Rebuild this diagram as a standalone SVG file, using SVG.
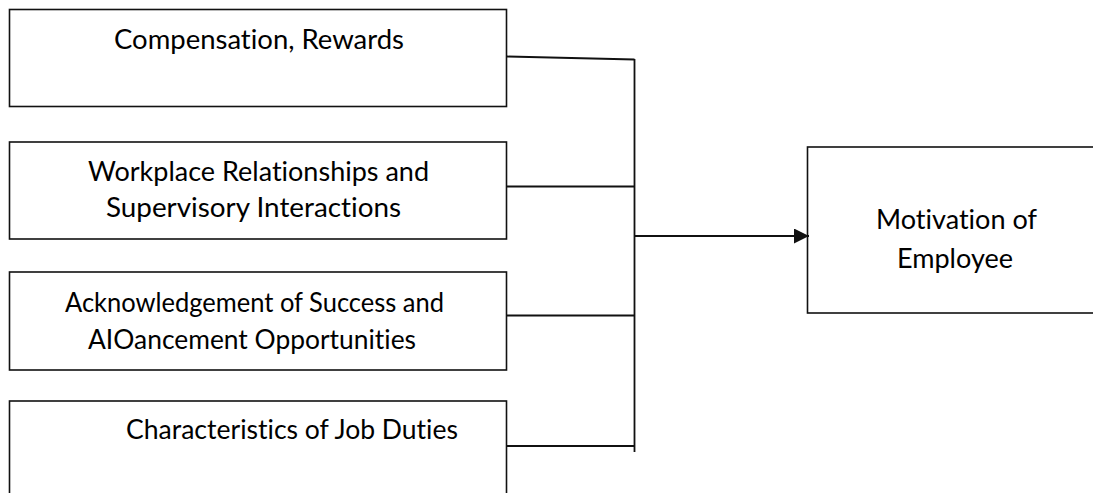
<svg xmlns="http://www.w3.org/2000/svg" width="1093" height="493" viewBox="0 0 1093 493">
  <style>
    .box { fill: #ffffff; stroke: #111111; stroke-width: 1.6; }
    .lbl { font-family: Lato, "Open Sans", "Liberation Sans", sans-serif; font-size: 26px; fill: #000000; font-variant-ligatures: none; font-feature-settings: "liga" 0, "dlig" 0; }
    .wire { stroke: #111111; stroke-width: 1.8; fill: none; }
  </style>
  <defs>
    <marker id="arrowhead" markerUnits="userSpaceOnUse" markerWidth="16" markerHeight="16" refX="15" refY="7.5" orient="auto">
      <path d="M0,0 L15,7.5 L0,15 Z" fill="#111111"/>
    </marker>
  </defs>

  <rect x="0" y="0" width="1093" height="493" fill="#ffffff"/>

  <!-- factor boxes -->
  <g id="node-compensation">
    <rect class="box" x="9.5" y="9.5" width="497" height="97"/>
    <text class="lbl" x="114" y="49" textLength="290" lengthAdjust="spacingAndGlyphs">Compensation, Rewards</text>
  </g>

  <g id="node-relationships">
    <rect class="box" x="9.5" y="142" width="497" height="97"/>
    <text class="lbl" x="88" y="181" textLength="341" lengthAdjust="spacingAndGlyphs">Workplace Relationships and</text>
    <text class="lbl" x="106" y="217" textLength="295" lengthAdjust="spacingAndGlyphs">Supervisory Interactions</text>
  </g>

  <g id="node-acknowledgement">
    <rect class="box" x="9.5" y="272" width="497" height="98"/>
    <text class="lbl" x="65" y="312" textLength="379" lengthAdjust="spacingAndGlyphs">Acknowledgement of Success and</text>
    <text class="lbl" x="88" y="349" textLength="328" lengthAdjust="spacingAndGlyphs">AIOancement Opportunities</text>
  </g>

  <g id="node-job-duties">
    <rect class="box" x="9.5" y="401" width="497" height="120"/>
    <text class="lbl" x="126" y="439" textLength="332" lengthAdjust="spacingAndGlyphs">Characteristics of Job Duties</text>
  </g>

  <!-- outcome box -->
  <g id="node-motivation">
    <rect class="box" x="807.5" y="147" width="300" height="166"/>
    <text class="lbl" x="876" y="229" textLength="161" lengthAdjust="spacingAndGlyphs">Motivation of</text>
    <text class="lbl" x="897" y="268" textLength="116" lengthAdjust="spacingAndGlyphs">Employee</text>
  </g>

  <!-- connectors -->
  <g id="connectors">
    <line class="wire" x1="507" y1="56.5" x2="634.5" y2="59.5"/>
    <line class="wire" x1="634.5" y1="59" x2="634.5" y2="452"/>
    <line class="wire" x1="507" y1="186.5" x2="635" y2="186.5"/>
    <line class="wire" x1="507" y1="315.5" x2="635" y2="315.5"/>
    <line class="wire" x1="507" y1="446" x2="635" y2="446"/>
    <line class="wire" x1="635" y1="236" x2="809" y2="236" stroke-width="2.2" marker-end="url(#arrowhead)"/>
  </g>
</svg>
